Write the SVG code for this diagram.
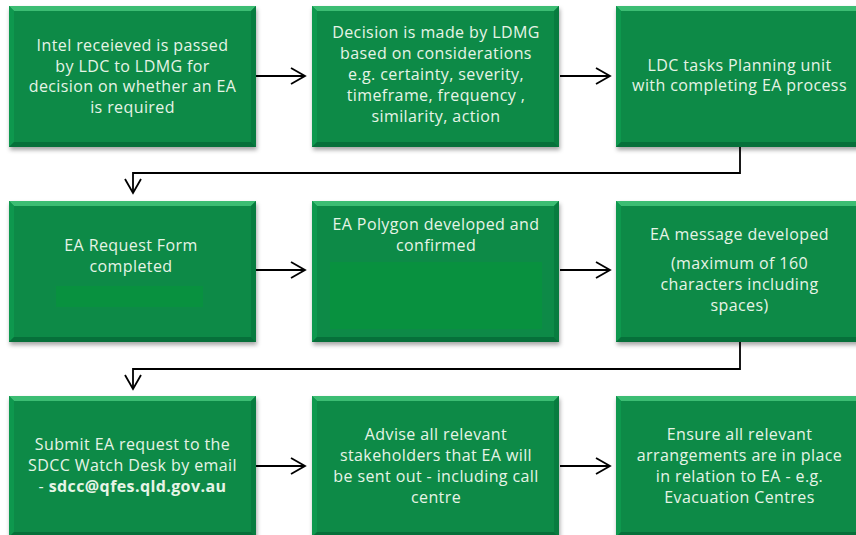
<svg xmlns="http://www.w3.org/2000/svg" xmlns:xlink="http://www.w3.org/1999/xlink" width="856" height="535" viewBox="0 0 856 535">
  <defs>
    <style>
      .lbl { font-family: "Open Sans", "Liberation Sans", Arial, sans-serif; font-size: 16px; letter-spacing: 0.4px; fill: #e6f4e6; text-anchor: middle; }
      .b { font-weight: bold; }
      .conn { fill: none; stroke: #000; stroke-width: 1.8; marker-end: url(#chev); }
      .inner { fill: #08913f; }
    </style>
    <filter id="shadow" x="-10%" y="-10%" width="120%" height="130%">
      <feDropShadow dx="1" dy="3" stdDeviation="2" flood-color="#000" flood-opacity="0.35"/>
    </filter>
    <marker id="chev" markerUnits="userSpaceOnUse" markerWidth="18" markerHeight="20" refX="15" refY="9" orient="auto">
      <path d="M1,1 L15,9 L1,17" fill="none" stroke="#000" stroke-width="1.8"/>
    </marker>
    <g id="box">
      <rect x="0" y="0" width="247" height="141" fill="#0c8a46" filter="url(#shadow)"/>
      <polygon points="0,0 247,0 242,5 5,5" fill="#3cbd73"/>
      <polygon points="0,0 5,5 5,136 0,141" fill="#0e984e"/>
      <polygon points="247,0 247,141 242,136 242,5" fill="#087c3f"/>
      <polygon points="0,141 5,136 242,136 247,141" fill="#06703a"/>
    </g>
  </defs>
  <rect width="856" height="535" fill="#ffffff"/>

  <g id="connectors">
    <path class="conn" d="M256,76 H305"/>
    <path class="conn" d="M560,76 H610"/>
    <path class="conn" d="M740,147 V173 H133 V193"/>
    <path class="conn" d="M256,270 H305"/>
    <path class="conn" d="M560,270 H610"/>
    <path class="conn" d="M740,342 V369 H133 V389"/>
    <path class="conn" d="M256,466 H305"/>
    <path class="conn" d="M560,466 H610"/>
  </g>

  <g id="n1">
    <use xlink:href="#box" x="9" y="6"/>
    <text class="lbl" x="132.5" y="51">Intel receieved is passed</text>
    <text class="lbl" x="132.5" y="71.5">by LDC to LDMG for</text>
    <text class="lbl" x="132.5" y="92">decision on whether an EA</text>
    <text class="lbl" x="132.5" y="112.5">is required</text>
  </g>
  <g id="n2">
    <use xlink:href="#box" x="312" y="6"/>
    <text class="lbl" x="436" y="38">Decision is made by LDMG</text>
    <text class="lbl" x="436" y="59">based on considerations</text>
    <text class="lbl" x="436" y="80">e.g. certainty, severity,</text>
    <text class="lbl" x="436" y="101">timeframe, frequency ,</text>
    <text class="lbl" x="436" y="122">similarity, action</text>
  </g>
  <g id="n3">
    <use xlink:href="#box" x="616" y="6"/>
    <text class="lbl" x="739.5" y="70.5">LDC tasks Planning unit</text>
    <text class="lbl" x="739.5" y="91">with completing EA process</text>
  </g>

  <g id="n4">
    <use xlink:href="#box" x="9" y="201"/>
    <text class="lbl" x="131" y="251">EA Request Form</text>
    <text class="lbl" x="131" y="272">completed</text>
    <rect class="inner" x="56" y="286" width="147" height="21"/>
  </g>
  <g id="n5">
    <use xlink:href="#box" x="312" y="201"/>
    <text class="lbl" x="436" y="230">EA Polygon developed and</text>
    <text class="lbl" x="436" y="251">confirmed</text>
    <rect class="inner" x="330" y="262" width="212" height="67"/>
  </g>
  <g id="n6">
    <use xlink:href="#box" x="616" y="201"/>
    <text class="lbl" x="739.5" y="240">EA message developed</text>
    <text class="lbl" x="739.5" y="269">(maximum of 160</text>
    <text class="lbl" x="739.5" y="290">characters including</text>
    <text class="lbl" x="739.5" y="311">spaces)</text>
  </g>

  <g id="n7">
    <use xlink:href="#box" x="9" y="396"/>
    <text class="lbl" x="132.5" y="450">Submit EA request to the</text>
    <text class="lbl" x="132.5" y="471">SDCC Watch Desk by email</text>
    <text class="lbl" x="132.5" y="492">- <tspan class="b">sdcc@qfes.qld.gov.au</tspan></text>
  </g>
  <g id="n8">
    <use xlink:href="#box" x="312" y="396"/>
    <text class="lbl" x="436" y="440">Advise all relevant</text>
    <text class="lbl" x="436" y="461">stakeholders that EA will</text>
    <text class="lbl" x="436" y="482">be sent out - including call</text>
    <text class="lbl" x="436" y="503">centre</text>
  </g>
  <g id="n9">
    <use xlink:href="#box" x="616" y="396"/>
    <text class="lbl" x="739.5" y="440">Ensure all relevant</text>
    <text class="lbl" x="739.5" y="461">arrangements are in place</text>
    <text class="lbl" x="739.5" y="482">in relation to EA - e.g.</text>
    <text class="lbl" x="739.5" y="503">Evacuation Centres</text>
  </g>
</svg>
